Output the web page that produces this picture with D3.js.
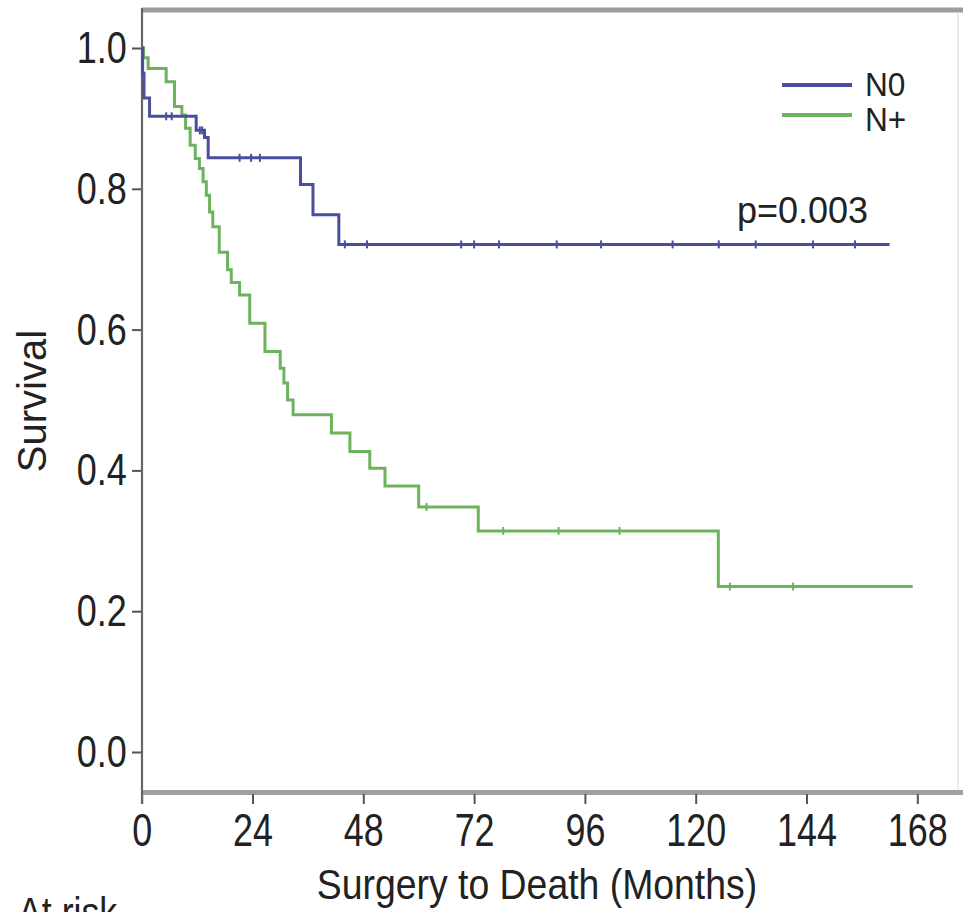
<!DOCTYPE html>
<html>
<head>
<meta charset="utf-8">
<script src="https://cdn.jsdelivr.net/npm/d3@7/dist/d3.min.js"></script>
<style>
  html, body { margin: 0; padding: 0; background: #fff; }
  svg { display: block; font-family: "Liberation Sans", Arial, sans-serif; }
</style>
</head>
<body>
<svg id="chart" width="963" height="912"></svg>
<script>
// Kaplan-Meier steps (months, survival after the drop)
const n0Times = [0, 0.2, 0.5, 1.7, 11.8, 13.6, 14.4, 34.4, 37.1, 42.7];
const n0Surv = [1.0, 0.964, 0.929, 0.903, 0.883, 0.873, 0.844, 0.806, 0.763, 0.721];
const n0End = 162;
const n0Censored = [5.3, 6.5, 12.6, 13.1, 21.2, 23.7, 25.6, 44, 48.8, 69.2, 72, 77.4, 89.9, 99.5, 115, 125, 133, 145.4, 154.5];

const npTimes = [0, 0.4, 1.4, 5.3, 7.1, 8.7, 9.5, 10.5, 11.6, 12.5, 13.3, 14.0, 14.7, 15.4, 16.8, 18.6, 19.4, 21.2, 23.4, 26.7, 30.0, 30.8, 31.6, 32.8, 41.1, 45.1, 49.4, 52.7, 60.0, 72.9, 124.9];
const npSurv = [1.0, 0.986, 0.971, 0.952, 0.917, 0.905, 0.886, 0.862, 0.843, 0.829, 0.81, 0.791, 0.767, 0.746, 0.71, 0.685, 0.667, 0.649, 0.609, 0.569, 0.545, 0.524, 0.50, 0.479, 0.453, 0.427, 0.403, 0.378, 0.348, 0.314, 0.235];
const npEnd = 167;
const npCensored = [61.7, 78.3, 90.3, 103.5, 127.4, 141.1];

const xTicks = [0, 24, 48, 72, 96, 120, 144, 168];
const yTicks = [0.0, 0.2, 0.4, 0.6, 0.8, 1.0];
const seriesNames = ['N0', 'N+'];
const pValueLabel = 'p=0.003';

const blue = '#4b4e9e';
const green = '#6db35d';

const svg = d3.select('#chart');

const x = d3.scaleLinear().domain([0, 168]).range([141.7, 917.3]);
const y = d3.scaleLinear().domain([0, 1]).range([752, 48]);

// frame
svg.append('line')
  .attr('x1', 142).attr('x2', 963).attr('y1', 10).attr('y2', 10)
  .attr('stroke', '#9c9c9c').attr('stroke-width', 5);
svg.append('line')
  .attr('x1', 958).attr('x2', 958).attr('y1', 12).attr('y2', 790)
  .attr('stroke', '#e4e4e4').attr('stroke-width', 1.5);
svg.append('line')
  .attr('x1', 142).attr('x2', 963).attr('y1', 792.5).attr('y2', 792.5)
  .attr('stroke', '#a0a0a0').attr('stroke-width', 5);

// x axis
const xAxis = svg.append('g')
  .attr('transform', 'translate(0,794)')
  .call(d3.axisBottom(x).tickValues(xTicks).tickFormat(d3.format('d')).tickSize(10).tickPadding(9));
xAxis.select('.domain').remove();
xAxis.selectAll('line').attr('stroke', '#555').attr('stroke-width', 2);
xAxis.selectAll('text')
  .attr('fill', '#222')
  .style('font-size', '46px')
  .attr('transform', 'scale(0.78,1)');

// y axis
const yAxis = svg.append('g')
  .attr('transform', 'translate(142,0)')
  .call(d3.axisLeft(y).tickValues(yTicks).tickFormat(d3.format('.1f')).tickSize(10).tickPadding(5));
yAxis.select('.domain').remove();
yAxis.selectAll('line').attr('stroke', '#555').attr('stroke-width', 2);
yAxis.selectAll('text')
  .attr('fill', '#222')
  .style('font-size', '45px')
  .attr('x', -19)
  .attr('transform', 'scale(0.8,1)');

svg.append('line')
  .attr('x1', 142).attr('x2', 142).attr('y1', 8).attr('y2', 804)
  .attr('stroke', '#666').attr('stroke-width', 2.2);

// axis titles
svg.append('text')
  .attr('transform', 'translate(537,899) scale(0.89,1)')
  .attr('text-anchor', 'middle')
  .attr('fill', '#222')
  .style('font-size', '42px')
  .text('Surgery to Death (Months)');

svg.append('text')
  .attr('transform', 'translate(46,401) rotate(-90)')
  .attr('text-anchor', 'middle')
  .attr('fill', '#222')
  .style('font-size', '40px')
  .text('Survival');

// cut off by the bottom edge, as in the original
svg.append('text')
  .attr('transform', 'translate(18,927) scale(0.85,1)')
  .attr('fill', '#222')
  .style('font-size', '42px')
  .text('At risk');

// curves
function stepPoints(times, surv, end) {
  const pts = times.map((t, i) => [t, surv[i]]);
  pts.push([end, surv[surv.length - 1]]);
  return pts;
}

function survAt(times, surv, t) {
  let s = surv[0];
  times.forEach((tt, i) => { if (tt <= t) s = surv[i]; });
  return s;
}

const line = d3.line()
  .x(d => x(d[0]))
  .y(d => y(d[1]))
  .curve(d3.curveStepAfter);

const series = [
  { name: seriesNames[0], times: n0Times, surv: n0Surv, end: n0End, censored: n0Censored, color: blue },
  { name: seriesNames[1], times: npTimes, surv: npSurv, end: npEnd, censored: npCensored, color: green }
];

// draw N+ first so N0 sits on top like in the original
series.slice().reverse().forEach(s => {
  svg.append('path')
    .datum(stepPoints(s.times, s.surv, s.end))
    .attr('fill', 'none')
    .attr('stroke', s.color)
    .attr('stroke-width', 3)
    .attr('d', line);

  svg.selectAll(null)
    .data(s.censored)
    .enter()
    .append('line')
    .attr('x1', d => x(d)).attr('x2', d => x(d))
    .attr('y1', d => y(survAt(s.times, s.surv, d)) - 4)
    .attr('y2', d => y(survAt(s.times, s.surv, d)) + 4)
    .attr('stroke', s.color)
    .attr('stroke-width', 2);
});

// legend
const legend = svg.append('g');
series.forEach((s, i) => {
  legend.append('line')
    .attr('x1', 782).attr('x2', 852)
    .attr('y1', 85 + i * 30).attr('y2', 85 + i * 30)
    .attr('stroke', s.color).attr('stroke-width', 4);
  legend.append('text')
    .attr('transform', `translate(865,${96 + i * 35}) scale(1.02,1.08)`)
    .attr('fill', '#222')
    .style('font-size', '31px')
    .text(s.name);
});

svg.append('text')
  .attr('x', 737).attr('y', 223)
  .attr('fill', '#222')
  .style('font-size', '36px')
  .text(pValueLabel);
</script>
</body>
</html>
